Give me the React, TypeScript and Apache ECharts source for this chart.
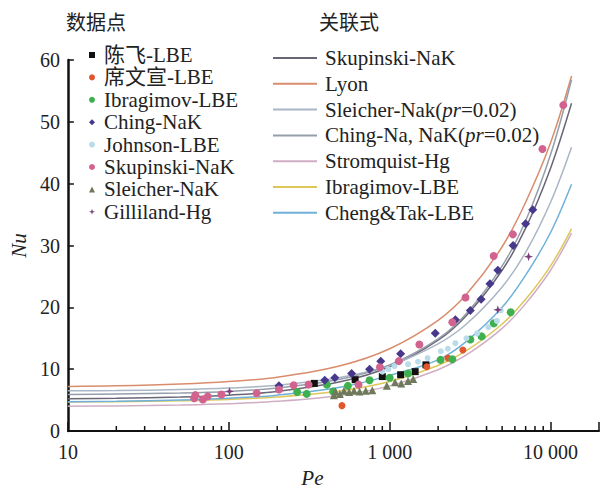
import React, { useEffect, useRef } from "react";
import * as echarts from "echarts";

// ---------- data ----------
const xTickLabels: Record<number, string> = { 10: "10", 100: "100", 1000: "1 000", 10000: "10 000" };
const minorTicks = [20, 30, 40, 50, 60, 70, 80, 90, 200, 300, 400, 500, 600, 700, 800, 900, 2000, 3000, 4000, 5000, 6000, 7000, 8000, 9000];

const curvePe = [10, 20, 50, 100, 200, 500, 1000, 2000, 3000, 5000, 7000, 10000, 13500];
const skupinskiCurve = [5.2, 5.3, 5.5, 5.8, 6.4, 8.0, 10.4, 14.7, 18.7, 26.0, 32.8, 42.5, 53.0];
const lyonCurve = [7.2, 7.3, 7.6, 8.0, 8.7, 10.6, 13.3, 17.9, 22.1, 29.8, 37.0, 46.6, 57.4];
const sleicherCurve = [6.5, 6.55, 6.7, 6.95, 7.4, 8.7, 10.6, 14.1, 17.3, 23.3, 28.9, 37.0, 45.9];
const chingCurve = [5.9, 6.0, 6.15, 6.4, 6.95, 8.4, 10.7, 14.9, 19.0, 26.7, 34.0, 44.7, 56.8];
const stromquistCurve = [4.0, 4.05, 4.2, 4.4, 4.8, 5.8, 7.3, 9.9, 12.3, 16.6, 20.6, 26.0, 32.0];
const ibragimovCurve = [4.7, 4.75, 4.9, 5.1, 5.5, 6.5, 8.0, 10.6, 13.0, 17.3, 21.3, 26.7, 32.7];
const chengTakCurve = [4.75, 4.8, 5.0, 5.3, 5.8, 7.1, 9.0, 11.5, 14.5, 20.0, 25.2, 32.1, 39.9];

const chenFeiPts = [[340, 7.7], [610, 8.3], [900, 8.8], [1170, 9.1], [1440, 9.6], [1680, 10.7]];
const xiWenxuanPts = [[505, 4.1], [1700, 10.4], [2300, 11.8], [2850, 13.1]];
const ibragimovPts = [[266, 6.3], [305, 6.0], [407, 7.5], [445, 6.4], [550, 7.3], [750, 8.2], [1000, 8.6], [1300, 9.3], [2070, 11.5], [2450, 11.6], [3170, 14.8], [3730, 15.3], [4430, 17.4], [5650, 19.2]];
const chingPts = [[205, 7.3], [395, 8.2], [456, 8.6], [580, 9.3], [750, 10.0], [880, 11.3], [1170, 12.5], [1920, 15.8], [2560, 18.0], [3170, 19.5], [3700, 21.3], [4200, 23.8], [4700, 26.0], [5850, 30.0], [7000, 33.5], [7750, 35.8]];
const johnsonPts = [[900, 9.6], [980, 10.0], [1070, 10.5], [1300, 10.8], [1500, 11.2], [1720, 11.8], [2080, 12.9], [2300, 13.3], [2560, 14.2], [3000, 15.0], [3500, 15.8], [4100, 16.8], [4640, 17.8], [4900, 19.5]];
const skupinskiPts = [[61, 5.3], [62, 5.8], [69, 5.1], [74, 5.6], [90, 5.9], [149, 6.1], [205, 6.7], [253, 7.4], [313, 7.5], [640, 7.5], [870, 10.3], [1140, 11.3], [1530, 14.0], [2450, 17.6], [2960, 21.6], [4430, 28.3], [5830, 31.8], [8900, 45.6], [12000, 52.7]];
const sleicherPts = [[450, 5.8], [460, 6.4], [490, 6.0], [520, 6.5], [560, 6.3], [600, 6.5], [650, 6.4], [710, 6.5], [780, 6.6], [960, 7.3], [1080, 7.9], [1180, 7.7], [1300, 8.1], [1400, 8.4]];
const gillilandPts = [[101, 6.4], [4700, 19.6], [7300, 28.2]];

const pointNames = ["陈飞-LBE", "席文宣-LBE", "Ibragimov-LBE", "Ching-NaK", "Johnson-LBE", "Skupinski-NaK", "Sleicher-NaK", "Gilliland-Hg"];
const curveNames = ["Skupinski-NaK ", "Lyon", "Sleicher-Nak(pr=0.02)", "Ching-Na, NaK(pr=0.02)", "Stromquist-Hg", "Ibragimov-LBE ", "Cheng&Tak-LBE"];

const FONT = "'Liberation Serif', 'Noto Sans CJK SC', serif";

export default function App() {
  const ref = useRef<HTMLDivElement>(null);
  useEffect(() => {
    if (!ref.current) return;
    const chart = echarts.init(ref.current, undefined, { renderer: "svg" });

    const curveData = [skupinskiCurve, lyonCurve, sleicherCurve, chingCurve, stromquistCurve, ibragimovCurve, chengTakCurve];
    const curveColors = ["#6b6676", "#d98d6c", "#aab5c5", "#949eab", "#cfaec4", "#dfc65a", "#6fb1d9"];
    const lineSeries = curveNames.map((name, i) => ({
      name,
      type: "line",
      data: curvePe.map((p, j) => [p, curveData[i][j]]),
      smooth: 0.35,
      symbol: "none",
      lineStyle: { width: 1.5, color: curveColors[i] },
      itemStyle: { color: curveColors[i] },
      z: 2,
    }));

    const ptData = [chenFeiPts, xiWenxuanPts, ibragimovPts, chingPts, johnsonPts, skupinskiPts, sleicherPts, gillilandPts];
    const ptColors = ["#111111", "#e2562e", "#3fb04f", "#47388c", "#b9dcea", "#d2628e", "#6f7a5a", "#7b3f7d"];
    const ptSymbols = ["rect", "circle", "circle", "diamond", "circle", "circle", "triangle",
      "path://M0,-10L2.5,-2.5L10,0L2.5,2.5L0,10L-2.5,2.5L-10,0L-2.5,-2.5Z"];
    const ptSizes = [7, 7, 8, 9, 6, 8, 8, 9];
    const scatterSeries = pointNames.map((name, i) => ({
      name,
      type: "scatter",
      data: ptData[i],
      symbol: ptSymbols[i],
      symbolSize: ptSizes[i],
      itemStyle: { color: ptColors[i], opacity: 1 },
      z: 5,
    }));

    const option: any = {
      animation: false,
      backgroundColor: "#ffffff",
      grid: { left: 63, right: 2, top: 60, bottom: 53, containLabel: false },
      xAxis: {
        type: "log",
        logBase: 10,
        min: 10,
        max: 20000,
        name: "Pe",
        nameLocation: "middle",
        nameGap: 36,
        nameTextStyle: { fontFamily: FONT, fontStyle: "italic", fontSize: 21, color: "#222", padding: [0, 42, 0, 0] },
        axisLine: { lineStyle: { color: "#111", width: 2 } },
        axisTick: { inside: true, length: 9, lineStyle: { color: "#111", width: 1.5 } },
        axisLabel: {
          fontFamily: FONT,
          fontSize: 20,
          color: "#222",
          margin: 11,
          formatter: (v: number) => xTickLabels[Math.round(v)] ?? "",
        },
        splitLine: { show: false },
      },
      yAxis: {
        type: "value",
        min: 0,
        max: 60,
        interval: 10,
        name: "Nu",
        nameLocation: "middle",
        nameGap: 36,
        nameTextStyle: { fontFamily: FONT, fontStyle: "italic", fontSize: 21, color: "#222" },
        axisLine: { show: true, lineStyle: { color: "#111", width: 2.5 } },
        axisTick: { show: true, inside: true, length: 6, lineStyle: { color: "#111", width: 1.5 } },
        axisLabel: { fontFamily: FONT, fontSize: 20, color: "#222", margin: 8 },
        splitLine: { show: false },
      },
      legend: [
        {
          data: pointNames,
          orient: "vertical",
          left: 84,
          top: 39,
          itemWidth: 6,
          itemHeight: 6,
          itemGap: 0.4,
          selectedMode: false,
          textStyle: { fontFamily: FONT, fontSize: 21, color: "#222", lineHeight: 22, padding: [0, 0, 0, 4] },
        },
        {
          data: curveNames,
          orient: "vertical",
          left: 268,
          top: 42,
          itemWidth: 44,
          itemHeight: 2,
          icon: "rect",
          itemGap: 3.8,
          selectedMode: false,
          formatter: (n: string) => n.trim().replace("(pr=", "({i|pr}="),
          textStyle: {
            fontFamily: FONT,
            fontSize: 21,
            color: "#222",
            lineHeight: 22,
            padding: [0, 0, 0, 3],
            rich: { i: { fontFamily: FONT, fontSize: 21, fontStyle: "italic", color: "#222" } },
          },
        },
      ],
      graphic: [
        { type: "text", left: 66, top: 11, style: { text: "数据点", fontFamily: "'Noto Sans CJK SC'", fontSize: 20, fill: "#222" } },
        { type: "text", left: 319, top: 11, style: { text: "关联式", fontFamily: "'Noto Sans CJK SC'", fontSize: 20, fill: "#222" } },
      ],
      series: [
        ...lineSeries,
        ...scatterSeries,
        {
          type: "custom",
          name: "minor",
          data: minorTicks.map((v) => [v, 0]),
          silent: true,
          z: 10,
          renderItem: (_p: any, api: any) => {
            const pt = api.coord([api.value(0), 0]);
            return {
              type: "line",
              shape: { x1: pt[0], y1: pt[1], x2: pt[0], y2: pt[1] - 5 },
              style: { stroke: "#111", lineWidth: 1.5 },
            };
          },
        },
      ],
    };
    chart.setOption(option);
    return () => chart.dispose();
  }, []);
  return <div ref={ref} style={{ position: "absolute", left: 0, top: 0, width: 602, height: 493 }} />;
}
